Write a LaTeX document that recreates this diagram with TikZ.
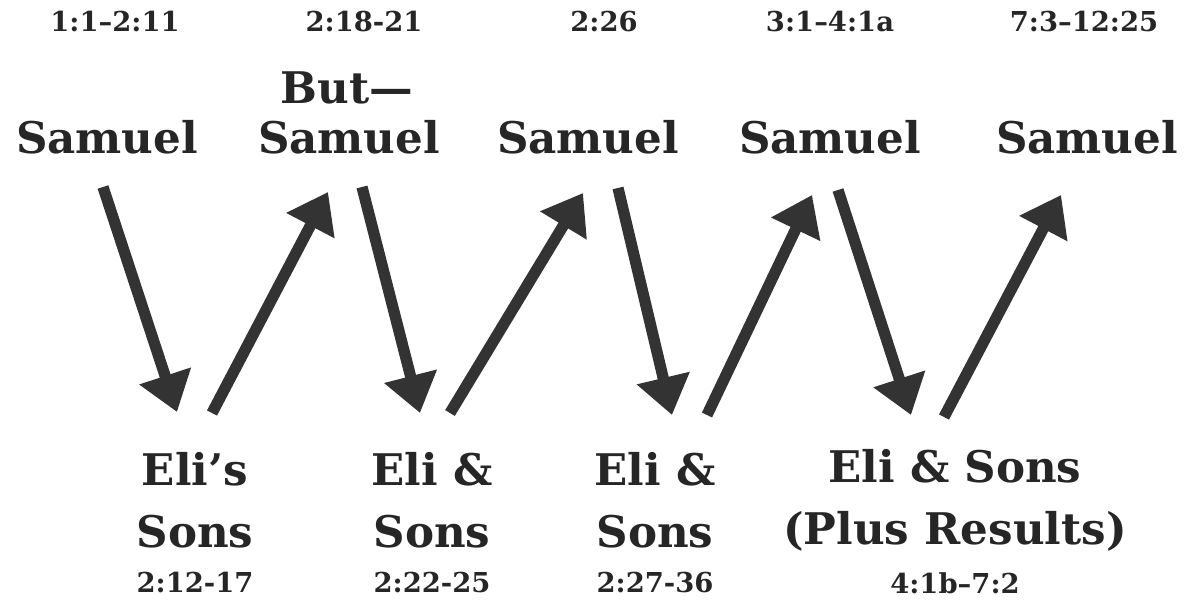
\documentclass[tikz,border=0pt]{standalone}
\usepackage{fontspec}
\setmainfont{DejaVu Serif}
\usepackage{xcolor}
\usepackage{tikz}
\usetikzlibrary{arrows.meta, calc}

\begin{document}
\begin{tikzpicture}[
  x=0.025cm, y=-0.025cm,
  every node/.style={text=black!85, inner sep=0pt},
  verse/.style={font=\bfseries\fontsize{19.5}{22}\selectfont},
  person/.style={font=\bfseries\fontsize{31}{44}\selectfont, align=center},
  arr/.style={-{Triangle[length=27pt, width=37pt]}, line width=8pt, draw=black!80}
]
\useasboundingbox (0,0) rectangle (1196,604);

% --- Samuel row (top) ---
\node[person] (sam1) at (107,137) {Samuel};
\node[person] (sam2) at (349,137) {Samuel};
\node[person] (sam3) at (588,137) {Samuel};
\node[person] (sam4) at (830,137) {Samuel};
\node[person] (sam5) at (1087,137) {Samuel};
\node[person] (but)  at (347,88)  {But---};

% --- Eli row (bottom) ---
\node[person] (eli1) at (195,500) {Eli’s\\Sons};
\node[person] (eli2) at (432,500) {Eli \&\\Sons};
\node[person] (eli3) at (655,500) {Eli \&\\Sons};
\node[person] (eli4) at (955,500) {Eli \& Sons\\(Plus Results)};

% --- Verse references ---
\node[verse] (v1) at (115,22)  {1:1–2:11};
\node[verse] (v2) at (364,22)  {2:18-21};
\node[verse] (v3) at (604,22)  {2:26};
\node[verse] (v4) at (830,22)  {3:1–4:1a};
\node[verse] (v5) at (1084,22) {7:3–12:25};
\node[verse] (v6) at (195,583) {2:12-17};
\node[verse] (v7) at (432,583) {2:22-25};
\node[verse] (v8) at (655,583) {2:27-36};
\node[verse] (v9) at (955,583) {4:1b–7:2};

% --- Arrows ---
\draw[arr] ($(sam1)+(-4,50)$)  -- ($(eli1)+(-18,-88)$);
\draw[arr] ($(eli1)+(17,-87)$) -- ($(sam2)+(-21,55)$);
\draw[arr] ($(sam2)+(13,50)$)  -- ($(eli2)+(-12,-87)$);
\draw[arr] ($(eli2)+(18,-87)$) -- ($(sam3)+(-5,56)$);
\draw[arr] ($(sam3)+(30,51)$)  -- ($(eli3)+(17,-85)$);
\draw[arr] ($(eli3)+(52,-85)$) -- ($(sam4)+(-18,58)$);
\draw[arr] ($(sam4)+(8,53)$)   -- ($(eli4)+(-44,-85)$);
\draw[arr] ($(eli4)+(-11,-83)$) -- ($(sam5)+(-26,58)$);

\end{tikzpicture}
\end{document}
